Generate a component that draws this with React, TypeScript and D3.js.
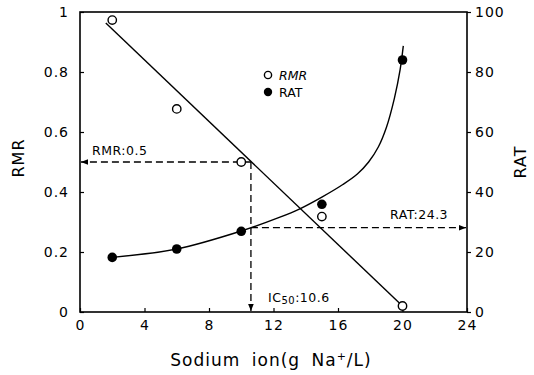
import React, { useEffect, useRef } from "react";
import * as d3 from "d3";

// sodium concentration (g Na+/L)
const sodium = [2, 6, 10, 15, 20];
const rmrValues = [0.973, 0.677, 0.5, 0.318, 0.02];
const ratValues = [18.2, 21, 26.9, 35.9, 84];

// fitted RMR line (end points)
const rmrFitX = [1.6, 20];
const rmrFitY = [0.963, 0.02];

// RAT fitted curve
const ratFitX = [2, 6, 10, 12.4, 13.6, 15, 16.3, 17.2, 17.9, 18.5, 19.0, 19.5, 19.85, 20.05];
const ratFitY = [18.2, 21, 27, 31.6, 34.3, 38.3, 42.5, 46, 50, 55, 61.5, 71.3, 80.7, 88.7];

const xTicks = [0, 4, 8, 12, 16, 20, 24];
const rmrTicks = [0, 0.2, 0.4, 0.6, 0.8, 1];
const ratTicks = [0, 20, 40, 60, 80, 100];

const ic50 = 10.6;
const rmrHalf = 0.5;
const ratAtIc50 = 28.1;

export default function App() {
  const svgRef = useRef(null);

  useEffect(() => {
    const left = 80, right = 467, top = 12, bottom = 312;
    const svg = d3.select(svgRef.current);
    svg.selectAll("*").remove();
    const font = "'DejaVu Sans', sans-serif";

    const x = d3.scaleLinear().domain([0, 24]).range([left, right]);
    const yL = d3.scaleLinear().domain([0, 1]).range([bottom, top]);
    const yR = d3.scaleLinear().domain([0, 100]).range([bottom, top]);

    // arrow head
    svg.append("defs").append("marker")
      .attr("id", "arr")
      .attr("viewBox", "0 0 10 10")
      .attr("refX", 10).attr("refY", 5)
      .attr("markerWidth", 7).attr("markerHeight", 7)
      .attr("markerUnits", "userSpaceOnUse")
      .attr("orient", "auto")
      .append("path").attr("d", "M0,1 L10,5 L0,9 Z").attr("fill", "#000");

    // frame
    svg.append("rect")
      .attr("x", left).attr("y", top)
      .attr("width", right - left).attr("height", bottom - top)
      .attr("fill", "none").attr("stroke", "#000").attr("stroke-width", 1.6);

    const axisStyle = (g) => {
      g.select(".domain").remove();
      g.selectAll("line").attr("stroke", "#000").attr("stroke-width", 1.2);
      g.selectAll("text").attr("font-family", font).attr("font-size", 14)
        .attr("letter-spacing", 1).attr("fill", "#000");
    };

    svg.append("g").attr("transform", `translate(0,${bottom})`)
      .call(d3.axisBottom(x).tickValues(xTicks).tickSize(-4).tickPadding(8).tickFormat(d3.format("d")))
      .call(axisStyle);

    svg.append("g").attr("transform", `translate(${left},0)`)
      .call(d3.axisLeft(yL).tickValues(rmrTicks).tickSize(-4).tickPadding(11)
        .tickFormat(d => (d === 0 || d === 1 ? String(d) : d3.format(".1f")(d))))
      .call(axisStyle);

    svg.append("g").attr("transform", `translate(${right},0)`)
      .call(d3.axisRight(yR).tickValues(ratTicks).tickSize(4).tickPadding(4).tickFormat(d3.format("d")))
      .call(axisStyle);

    // dashed guide lines
    const dash = "7,4";
    const guide = (x1, y1, x2, y2) => svg.append("line")
      .attr("x1", x1).attr("y1", y1).attr("x2", x2).attr("y2", y2)
      .attr("stroke", "#000").attr("stroke-width", 1.3).attr("stroke-dasharray", dash)
      .attr("marker-end", "url(#arr)");
    guide(x(ic50), yL(rmrHalf), x(0) + 1, yL(rmrHalf));
    guide(x(ic50), yL(rmrHalf), x(ic50), yL(0) - 1);
    guide(x(ic50), yR(ratAtIc50), x(24) - 1, yR(ratAtIc50));

    // fitted RMR line
    const rmrLine = d3.line().x(d => x(d[0])).y(d => yL(d[1]));
    svg.append("path")
      .attr("d", rmrLine(d3.zip(rmrFitX, rmrFitY)))
      .attr("fill", "none").attr("stroke", "#000").attr("stroke-width", 1.4);

    // fitted RAT curve
    const ratLine = d3.line().x(d => x(d[0])).y(d => yR(d[1])).curve(d3.curveCatmullRom.alpha(0.5));
    svg.append("path")
      .attr("d", ratLine(d3.zip(ratFitX, ratFitY)))
      .attr("fill", "none").attr("stroke", "#000").attr("stroke-width", 1.4);

    // points
    svg.selectAll(".rmr").data(d3.zip(sodium, rmrValues)).join("circle")
      .attr("class", "rmr")
      .attr("cx", d => x(d[0])).attr("cy", d => yL(d[1])).attr("r", 4.2)
      .attr("fill", "#fff").attr("stroke", "#000").attr("stroke-width", 1.4);
    svg.selectAll(".rat").data(d3.zip(sodium, ratValues)).join("circle")
      .attr("class", "rat")
      .attr("cx", d => x(d[0])).attr("cy", d => yR(d[1])).attr("r", 4.8)
      .attr("fill", "#000");

    // legend
    const lg = svg.append("g").attr("font-family", font).attr("font-size", 12.5);
    lg.append("circle").attr("cx", 268).attr("cy", 75).attr("r", 3.6)
      .attr("fill", "#fff").attr("stroke", "#000").attr("stroke-width", 1.4);
    lg.append("text").attr("x", 279).attr("y", 79.5).attr("font-style", "italic").text("RMR");
    lg.append("circle").attr("cx", 268).attr("cy", 92).attr("r", 4.2).attr("fill", "#000");
    lg.append("text").attr("x", 279).attr("y", 96.5).text("RAT");

    // annotations
    const ann = svg.append("g").attr("font-family", font).attr("font-size", 12.5).attr("letter-spacing", 0.5);
    ann.append("text").attr("x", 92).attr("y", 155).text("RMR:0.5");
    ann.append("text").attr("x", 390).attr("y", 219).text("RAT:24.3");
    const ic = ann.append("text").attr("x", 268).attr("y", 302);
    ic.append("tspan").text("IC");
    ic.append("tspan").attr("font-size", 10).attr("dy", 2).text("50");
    ic.append("tspan").attr("dy", -2).text(":10.6");

    // axis titles
    const titles = svg.append("g").attr("font-family", font).attr("font-size", 16).attr("fill", "#000");
    titles.append("text").attr("transform", `translate(24,158) rotate(-90)`)
      .attr("text-anchor", "middle").attr("letter-spacing", 1).text("RMR");
    titles.append("text").attr("transform", `translate(526,162) rotate(-90)`)
      .attr("text-anchor", "middle").attr("letter-spacing", 1).text("RAT");
    const xt = titles.append("text").attr("x", 271).attr("y", 366).attr("font-size", 17)
      .attr("text-anchor", "middle").attr("letter-spacing", 1).attr("word-spacing", 5);
    xt.append("tspan").text("Sodium ion(g Na");
    xt.append("tspan").attr("font-size", 11).attr("dy", -6).text("+");
    xt.append("tspan").attr("dy", 6).text("/L)");
  }, []);

  return (
    <svg ref={svgRef} width={534} height={375}
      style={{ position: "absolute", left: 0, top: 0, background: "#fff" }} />
  );
}
